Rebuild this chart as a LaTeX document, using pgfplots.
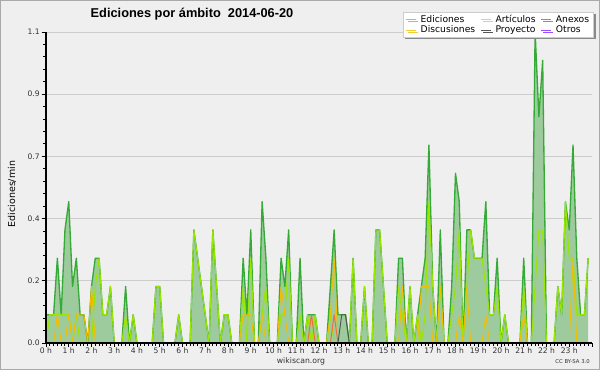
\documentclass[border=0pt]{standalone}
\usepackage{pgfplots}
\pgfplotsset{compat=1.18}
\usepackage{pgfplotstable}
\usepackage{fontspec}
\setmainfont{DejaVu Sans}
\newfontfamily\titlefont{Liberation Sans}
\usetikzlibrary{shadows}
\definecolor{bgc}{HTML}{EFEFEF}
\definecolor{bordc}{HTML}{A9A9A9}
\definecolor{gridc}{HTML}{CCCCCC}
\definecolor{edline}{HTML}{36AA36}
\definecolor{edfill}{HTML}{9DCB9D}
\definecolor{edleg}{HTML}{88D088}
\definecolor{artc}{HTML}{99E600}
\definecolor{discc}{HTML}{F2BE00}
\definecolor{anexc}{HTML}{F56A38}
\definecolor{projc}{HTML}{555555}
\definecolor{otrc}{HTML}{9B4DFF}
\definecolor{tickc}{HTML}{333333}
\definecolor{shadc}{HTML}{8A8A8A}
\pgfplotstableread{
i ed ar di an pr ot
0 0.1 0 0 0 0 0
1 0.1 0.1 0 0 0 0
2 0.1 0.1 0 0 0 0
3 0.3 0.1 0.1 0 0 0
4 0.1 0.1 0 0 0 0
5 0.4 0.1 0 0 0 0
6 0.5 0.1 0.1 0 0 0
7 0.2 0 0 0 0 0
8 0.3 0.1 0.1 0 0 0
9 0.1 0 0.1 0 0 0
10 0.1 0 0.1 0 0 0
11 0 0 0 0 0 0
12 0.2 0 0.2 0 0 0
13 0.3 0.2 0 0 0 0
14 0.3 0.3 0 0 0 0
15 0.1 0.1 0 0 0 0
16 0.1 0.1 0 0 0 0
17 0.2 0.2 0 0 0 0
18 0 0 0 0 0 0
19 0 0 0 0 0 0
20 0 0 0 0 0 0
21 0.2 0.1 0 0 0 0
22 0 0 0 0 0 0
23 0.1 0.1 0 0 0 0
24 0 0 0 0 0 0
25 0 0 0 0 0 0
26 0 0 0 0 0 0
27 0 0 0 0 0 0
28 0 0 0 0 0 0
29 0.2 0.2 0 0 0 0
30 0.2 0.2 0 0 0 0
31 0 0 0 0 0 0
32 0 0 0 0 0 0
33 0 0 0 0 0 0
34 0 0 0 0 0 0
35 0.1 0.1 0 0 0 0
36 0 0 0 0 0 0
37 0 0 0 0 0 0
38 0 0 0 0 0 0
39 0.4 0.4 0 0 0 0
40 0.3 0.3 0 0 0 0
41 0.2 0.2 0 0 0 0
42 0.1 0.1 0 0 0 0
43 0 0 0 0 0 0
44 0.4 0.4 0 0 0 0
45 0.2 0.2 0 0 0 0
46 0 0 0 0 0 0
47 0.1 0.1 0 0 0 0
48 0.1 0.1 0 0 0 0
49 0 0 0 0 0 0
50 0 0 0 0 0 0
51 0 0 0 0 0 0
52 0.3 0.2 0.1 0 0 0
53 0.1 0 0.1 0 0 0
54 0.4 0.3 0.1 0 0 0
55 0 0 0 0 0 0
56 0 0 0 0 0 0
57 0.5 0.1 0.1 0 0 0
58 0.3 0.2 0 0 0 0
59 0 0 0 0 0 0
60 0 0 0 0 0 0
61 0 0 0 0 0 0
62 0.3 0.1 0.2 0 0 0
63 0.2 0.1 0.1 0 0 0
64 0.4 0.3 0 0 0 0
65 0 0 0 0 0 0
66 0 0 0 0 0 0
67 0.3 0.1 0 0 0 0
68 0 0 0 0 0 0
69 0.1 0.1 0 0 0 0
70 0.1 0 0 0.1 0 0
71 0.1 0.1 0 0 0 0
72 0 0 0 0 0 0
73 0 0 0 0 0 0
74 0 0 0 0 0 0
75 0.2 0.1 0.1 0 0 0
76 0.4 0 0.3 0.1 0 0
77 0.1 0 0 0 0 0
78 0.1 0 0 0 0.1 0
79 0.1 0 0 0 0.1 0
80 0 0 0 0 0 0
81 0.3 0.3 0 0 0 0
82 0 0 0 0 0 0
83 0 0 0 0 0 0
84 0.2 0.2 0 0 0 0
85 0 0 0 0 0 0
86 0 0 0 0 0 0
87 0.4 0.4 0 0 0 0
88 0.4 0.4 0 0 0 0
89 0.2 0.2 0 0 0 0
90 0 0 0 0 0 0
91 0 0 0 0 0 0
92 0 0 0 0 0 0
93 0.3 0.2 0 0 0 0
94 0.3 0.1 0.2 0 0 0
95 0 0 0 0 0 0
96 0.2 0.2 0 0 0 0
97 0 0 0 0 0 0
98 0.1 0.1 0 0 0 0
99 0.2 0 0.2 0 0 0
100 0.3 0.1 0.2 0 0 0
101 0.7 0.5 0.2 0 0 0
102 0.2 0.2 0 0 0 0
103 0 0 0 0 0 0
104 0.4 0.2 0.2 0 0 0
105 0 0 0 0 0 0
106 0 0 0 0 0 0
107 0.2 0.1 0 0 0 0
108 0.6 0.2 0 0 0 0
109 0.5 0.4 0.1 0 0 0
110 0 0 0 0 0 0
111 0.4 0.2 0.2 0 0 0
112 0.4 0.4 0 0 0 0
113 0.3 0.3 0 0 0 0
114 0.3 0.3 0 0 0 0
115 0.3 0.3 0 0 0 0
116 0.5 0.2 0.1 0 0 0
117 0.1 0.1 0 0 0 0
118 0.1 0.1 0 0 0 0
119 0.3 0.2 0 0 0 0
120 0 0 0 0 0 0
121 0.1 0.1 0 0 0 0
122 0 0 0 0 0 0
123 0 0 0 0 0 0
124 0 0 0 0 0 0
125 0 0 0 0 0 0
126 0.3 0.2 0.1 0 0 0
127 0 0 0 0 0 0
128 0 0 0 0 0 0
129 1.1 0.2 0 0 0 0
130 0.8 0.4 0 0 0 0
131 1.0 0.4 0 0 0 0
132 0 0 0 0 0 0
133 0 0 0 0 0 0
134 0 0 0 0 0 0
135 0.2 0.2 0 0 0 0
136 0.1 0.1 0 0 0 0
137 0.5 0.5 0 0 0 0
138 0.4 0.3 0 0 0 0
139 0.7 0.3 0.3 0 0 0
140 0.3 0.1 0 0 0 0
141 0.1 0.1 0 0 0 0
142 0.1 0.1 0 0 0 0
143 0.3 0.3 0 0 0 0
}\datatab
\pgfplotsset{
  geom/.style={at={(34.5pt,20.25pt)}, anchor=south west, scale only axis,
    width=409.5pt, height=233.25pt, xmin=0, xmax=24, ymin=0, ymax=1.1},
}
\begin{document}
\begin{tikzpicture}
\useasboundingbox (0pt,0pt) rectangle (450pt,277.5pt);
\fill[bgc] (0pt,0pt) rectangle (450pt,277.5pt);
\draw[bordc, line width=0.75pt] (0.375pt,0.375pt) rectangle (449.625pt,277.125pt);
% data axis
\begin{axis}[geom,
  axis line style={draw=none}, tick style={draw=none},
  xtick=\empty, ytick={0,0.22,0.44,0.66,0.88,1.1}, yticklabels={},
  ymajorgrids, grid style={gridc, line width=0.7pt},
  line join=round]
\addplot[draw=none, fill=edfill, forget plot] table[x expr=\thisrow{i}/6, y=ed]{\datatab} \closedcycle;
\addplot[draw=edline, line width=1pt, forget plot] table[x expr=\thisrow{i}/6, y=ed]{\datatab};
\addplot[draw=artc, line width=0.8pt, forget plot] table[x expr=\thisrow{i}/6, y=ar]{\datatab};
\addplot[draw=discc, line width=0.7pt, forget plot] table[x expr=\thisrow{i}/6, y=di]{\datatab};
\addplot[draw=anexc, line width=0.7pt, forget plot] table[x expr=\thisrow{i}/6, y=an]{\datatab};
\addplot[draw=projc, line width=0.7pt, forget plot] table[x expr=\thisrow{i}/6, y=pr]{\datatab};
\addplot[draw=otrc, line width=0.7pt, forget plot] table[x expr=\thisrow{i}/6, y=ot]{\datatab};
\end{axis}
% frame axis with ticks and legend
\begin{axis}[geom,
  axis x line*=bottom, axis y line*=left, axis line style={-, black, line width=1pt},
  xtick={0,...,24},
  xticklabels={0 h,1 h,2 h,3 h,4 h,5 h,6 h,7 h,8 h,9 h,10 h,11 h,12 h,13 h,14 h,15 h,16 h,17 h,18 h,19 h,20 h,21 h,22 h,23 h,{}},
  minor x tick num=5,
  ytick={0,0.22,0.44,0.66,0.88,1.1}, yticklabels={0.0,0.2,0.4,0.7,0.9,1.1},
  minor y tick num=4,
  tick align=outside, major tick length=3pt, minor tick length=2.2pt,
  tick style={black, line width=0.7pt},
  ticklabel style={font=\fontsize{5.7}{6}\selectfont, text=tickc},
  xticklabel style={inner sep=0.6pt},
  yticklabel style={inner sep=1.5pt},
  legend columns=3,
  legend cell align=left,
  legend image code/.code={\draw[#1, line width=0.7pt] (0pt,0pt) -- (7.5pt,0pt);},
  legend style={at={(1.004,1.064)}, anchor=north east, draw=gridc, fill=white,
    line width=0.6pt, font=\fontsize{6.9}{7}\selectfont,
    inner xsep=2pt, inner ysep=1pt, row sep=-1.2pt,
    nodes={inner xsep=1.5pt, inner ysep=1pt},
    /tikz/every odd column/.append style={column sep=1.5pt},
    /tikz/every even column/.append style={column sep=2.5pt},
    drop shadow={shadow xshift=1.5pt, shadow yshift=-1.5pt, fill=shadc, opacity=1}},
]
\addlegendimage{edleg}\addlegendentry{Ediciones}
\addlegendimage{artc!70}\addlegendentry{Artículos}
\addlegendimage{anexc}\addlegendentry{Anexos}
\addlegendimage{discc!80}\addlegendentry{Discusiones}
\addlegendimage{projc}\addlegendentry{Proyecto}
\addlegendimage{otrc}\addlegendentry{Otros}
\end{axis}
\node[anchor=base west, font=\titlefont\bfseries\fontsize{9.6}{10}\selectfont] at (64.5pt,264.5pt) {Ediciones por ámbito\hspace{0.55em}2014-06-20};
\node[rotate=90, font=\fontsize{7.1}{8}\selectfont] at (9pt,132pt) {Ediciones/min};
\node[font=\fontsize{5.8}{6}\selectfont, text=tickc] at (225.75pt,6.75pt) {wikiscan.org};
\node[anchor=east, font=\fontsize{4}{5}\selectfont, text=tickc, inner sep=0pt] at (442.5pt,6pt) {CC BY-SA 3.0};
\end{tikzpicture}
\end{document}
